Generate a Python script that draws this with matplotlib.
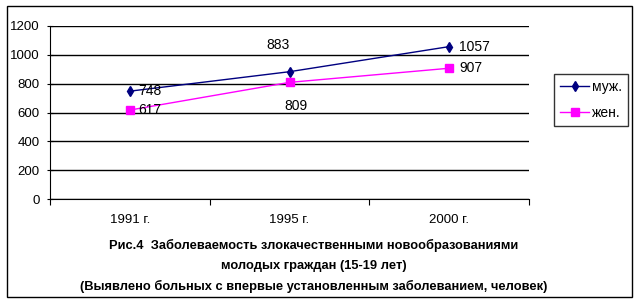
import matplotlib.pyplot as plt
from matplotlib.patches import Rectangle

plt.rcParams['font.family'] = ['Liberation Sans', 'DejaVu Sans']

years = ["1991 г.", "1995 г.", "2000 г."]
male = [748, 883, 1057]
female = [617, 809, 907]

fig = plt.figure(figsize=(6.39, 3.07), dpi=100)
fig.patches.append(Rectangle((7 / 639, 1 - 297 / 307), 625 / 639, 291 / 307,
                             transform=fig.transFigure, fill=False, ec="black", lw=1))

ax = fig.add_axes([50 / 639, 1 - 199 / 307, 479 / 639, 173 / 307])
x = [0.5, 1.5, 2.5]
ax.plot(x, male, "-d", color="#000080", ms=5, lw=1, label="муж.")
ax.plot(x, female, "-s", color="#FF00FF", ms=5.5, lw=1, label="жен.")

ax.set_xlim(0, 3)
ax.set_ylim(0, 1200)
ax.set_yticks(range(0, 1201, 200))
ax.set_xticks([0, 1, 2, 3])
ax.set_xticklabels([])
ax.set_xticks(x, minor=True)
ax.set_xticklabels(years, minor=True)
ax.tick_params(axis="x", which="minor", length=0, pad=11, labelsize=9.5)
ax.tick_params(axis="x", which="major", length=4, direction="out")
ax.tick_params(axis="y", length=5, direction="inout", labelsize=9.5, pad=5)
ax.grid(axis="y", color="black", lw=1)
ax.set_axisbelow(True)
for s in ("top", "right"):
    ax.spines[s].set_visible(False)

fs = 10
ax.annotate(str(male[0]), (x[0], male[0]), xytext=(6, 0), textcoords="offset points", va="center", fontsize=fs)
ax.annotate(str(female[0]), (x[0], female[0]), xytext=(6, 0), textcoords="offset points", va="center", fontsize=fs)
ax.annotate(str(male[1]), (x[1], male[1]), xytext=(-17, 19), textcoords="offset points", va="center", fontsize=fs)
ax.annotate(str(female[1]), (x[1], female[1]), xytext=(-4, -17), textcoords="offset points", va="center", fontsize=fs)
ax.annotate(str(male[2]), (x[2], male[2]), xytext=(7, 0), textcoords="offset points", va="center", fontsize=fs)
ax.annotate(str(female[2]), (x[2], female[2]), xytext=(7, 0), textcoords="offset points", va="center", fontsize=fs)

leg = ax.legend(loc="upper left", bbox_to_anchor=(554 / 639, 1 - 74 / 307), bbox_transform=fig.transFigure,
                fontsize=10, frameon=True, fancybox=False, edgecolor="black", borderpad=0.45,
                handlelength=2.1, labelspacing=0.85, handletextpad=0.2, borderaxespad=0)
leg.get_frame().set_linewidth(1)

caption = ["Рис.4  Заболеваемость злокачественными новообразованиями",
           "молодых граждан (15-19 лет)",
           "(Выявлено больных с впервые установленным заболеванием, человек)"]
for i, line in enumerate(caption):
    fig.text(314 / 639, 1 - (245 + 20.5 * i) / 307, line, ha="center", va="center",
             fontsize=9.3, fontweight="bold")

fig.savefig("out.png", dpi=100)
